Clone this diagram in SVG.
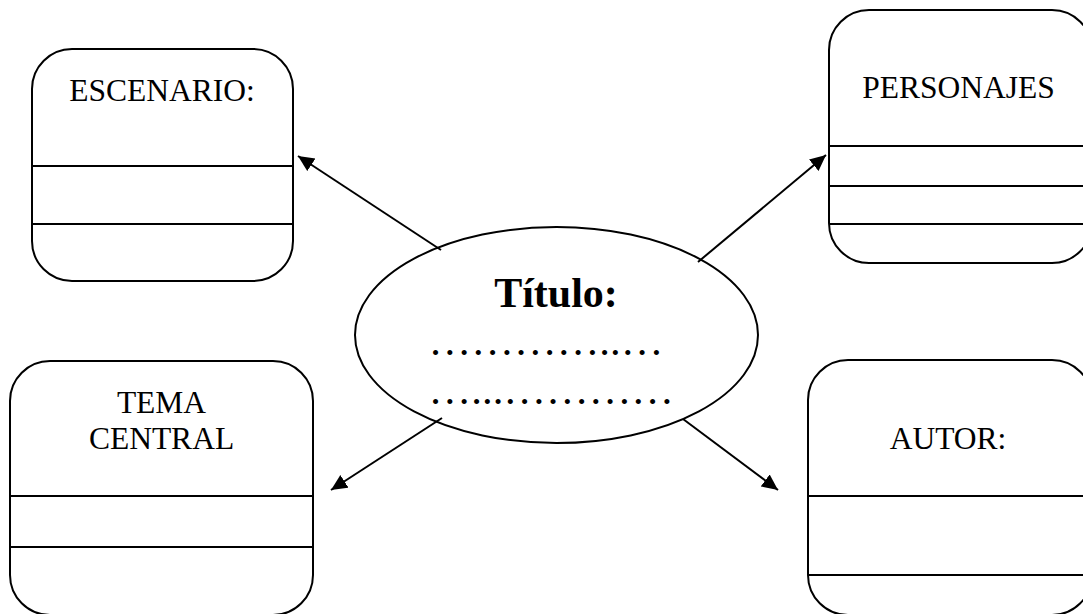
<svg xmlns="http://www.w3.org/2000/svg" width="1083" height="614" viewBox="0 0 1083 614">
  <style>
    .box { fill: #fff; stroke: #000; stroke-width: 2; }
    .div { stroke: #000; stroke-width: 2; }
    .lbl { font-family: "Liberation Serif", "Times New Roman", serif; font-size: 31.5px; fill: #000; text-anchor: middle; }
    .conn { stroke: #000; stroke-width: 2; fill: none; marker-end: url(#arrow); }
    .title { font-family: "Liberation Serif", "Times New Roman", serif; font-size: 42px; font-weight: bold; fill: #000; text-anchor: middle; }
    .dots { font-family: "Liberation Serif", "Times New Roman", serif; font-size: 42.7px; fill: #000; }
  </style>
  <defs>
    <marker id="arrow" markerUnits="userSpaceOnUse" markerWidth="18" markerHeight="16" refX="16" refY="7.5" orient="auto">
      <path d="M0,0 L16,7.5 L0,15 z" fill="#000"/>
    </marker>
  </defs>
  <rect width="1083" height="614" fill="#fff"/>

  <g id="connectors">
    <line class="conn" x1="441" y1="250" x2="298" y2="156"/>
    <line class="conn" x1="698" y1="262" x2="826" y2="155"/>
    <line class="conn" x1="442" y1="418" x2="331" y2="490"/>
    <line class="conn" x1="683" y1="419" x2="778" y2="490"/>
  </g>

  <g id="escenario">
    <rect class="box" x="32" y="49" width="261" height="232" rx="40" ry="40"/>
    <line class="div" x1="32" y1="166" x2="293" y2="166"/>
    <line class="div" x1="32" y1="224" x2="293" y2="224"/>
    <text class="lbl" x="162" y="101">ESCENARIO:</text>
  </g>

  <g id="personajes">
    <rect class="box" x="829" y="10" width="263" height="253" rx="40" ry="40"/>
    <line class="div" x1="829" y1="146" x2="1092" y2="146"/>
    <line class="div" x1="829" y1="186" x2="1092" y2="186"/>
    <line class="div" x1="829" y1="224" x2="1092" y2="224"/>
    <text class="lbl" x="958.5" y="98">PERSONAJES</text>
  </g>

  <g id="tema-central">
    <rect class="box" x="10" y="361" width="303" height="254" rx="40" ry="40"/>
    <line class="div" x1="10" y1="496" x2="313" y2="496"/>
    <line class="div" x1="10" y1="547" x2="313" y2="547"/>
    <text class="lbl" x="161.5" y="413">TEMA</text>
    <text class="lbl" x="161.5" y="449">CENTRAL</text>
  </g>

  <g id="autor">
    <rect class="box" x="808" y="360" width="284" height="255" rx="40" ry="40"/>
    <line class="div" x1="808" y1="496" x2="1092" y2="496"/>
    <line class="div" x1="808" y1="575" x2="1092" y2="575"/>
    <text class="lbl" x="948" y="449">AUTOR:</text>
  </g>

  <g id="titulo">
    <ellipse cx="556.5" cy="335" rx="201.5" ry="108" fill="none" stroke="#000" stroke-width="2"/>
    <text class="title" x="556" y="307">Título:</text>
    <text class="dots" x="428.6" y="355">…………..…</text>
    <text class="dots" x="428.6" y="404">…...…………</text>
  </g>
</svg>
